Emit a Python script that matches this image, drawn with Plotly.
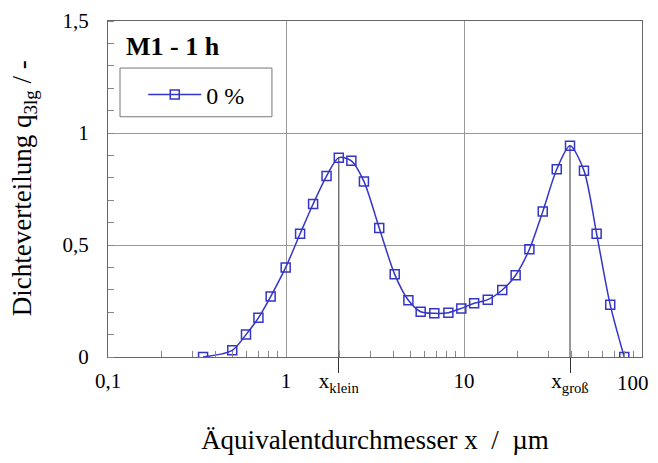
import plotly.graph_objects as go

# --- data ---
size_um = [0.342, 0.499, 0.596, 0.70, 0.82, 0.996, 1.20, 1.42, 1.69, 1.98, 2.33, 2.74,
           3.34, 4.08, 4.87, 5.71, 6.81, 8.17, 9.66, 11.4, 13.6, 16.4, 19.5, 23.3,
           27.7, 33.2, 39.4, 47.2, 55.6, 66.3, 79.5]
q3lg = [0.0, 0.03, 0.10, 0.175, 0.27, 0.40, 0.55, 0.683, 0.808, 0.89, 0.876, 0.784,
        0.576, 0.369, 0.253, 0.202, 0.195, 0.198, 0.217, 0.24, 0.256, 0.299, 0.365, 0.481,
        0.649, 0.838, 0.943, 0.832, 0.55, 0.233, 0.0]
series_name = "0 %"
panel_title = "M1 - 1 h"
x_title = "Äquivalentdurchmesser x  /  µm"
y_title = "Dichteverteilung q<sub>3lg</sub> / -"
x_ticks = [0.1, 1, 10, 100]
x_ticktext = ["0,1", "1", "10", "100"]
y_ticks = [0, 0.5, 1, 1.5]
y_ticktext = ["0", "0,5", "1", "1,5"]
mode_labels = ["x<sub>klein</sub>", "x<sub>groß</sub>"]

# peak positions of the two modes (derived from the data)
split = 10
small = [(q, x) for x, q in zip(size_um, q3lg) if x < split]
large = [(q, x) for x, q in zip(size_um, q3lg) if x >= split]
pk_small = max(small)
pk_large = max(large)
x_klein, x_gross = pk_small[1], pk_large[1]

FONT = "Liberation Serif, Times New Roman, serif"
BLUE = "#3535c8"
TICK_SIZE = 21
minor_x = [m * 10 ** e for e in (-1, 0, 1) for m in range(2, 10)]

fig = go.Figure()
fig.add_trace(go.Scatter(
    x=size_um, y=q3lg, name=series_name, mode="lines+markers",
    line=dict(color=BLUE, width=1.5, shape="spline", smoothing=0.8),
    marker=dict(symbol="square-open", size=9, color=BLUE, line=dict(width=1.5)),
))
# helper trace for the second x axis (mode markers)
fig.add_trace(go.Scatter(x=[x_klein, x_gross], y=[None, None], xaxis="x2",
                         showlegend=False, hoverinfo="skip"))

# vertical lines from the axis up to the mode peaks
for q, x in (pk_small, pk_large):
    fig.add_shape(type="line", xref="x", yref="y", x0=x, x1=x, y0=0, y1=q,
                  line=dict(color="#333333", width=1), layer="below")

# legend frame
fig.add_shape(type="rect", xref="paper", yref="paper", x0=0.0225, x1=0.307,
              y0=0.715, y1=0.860, line=dict(color="#777777", width=1),
              fillcolor="white", layer="above")

fig.add_annotation(text="<b>" + panel_title + "</b>", xref="paper", yref="paper",
                   x=0.030, y=0.925, xanchor="left", yanchor="middle", showarrow=False,
                   font=dict(family=FONT, size=26, color="black"))

# y-axis title
fig.add_annotation(text=y_title, xref="paper", yref="paper", textangle=-90,
                   x=-0.157, y=0.503, xanchor="center", yanchor="middle", showarrow=False,
                   font=dict(family=FONT, size=27, color="black"))

# last x tick label, right-aligned so it stays inside the page
fig.add_annotation(text=x_ticktext[-1], xref="x", x=2, yref="paper", y=-0.077,
                   xanchor="right", yanchor="middle", xshift=9, showarrow=False,
                   font=dict(family=FONT, size=TICK_SIZE, color="black"))

axis_common = dict(showline=True, linecolor="#666666", linewidth=1, mirror=True,
                   gridcolor="#999999", gridwidth=1, zeroline=False, automargin=False,
                   tickfont=dict(family=FONT, size=TICK_SIZE, color="black"))

# the page adds an 8px body margin; size and margins are set to compensate
fig.update_layout(
    width=642, height=447,
    margin=dict(l=100, r=8, t=13, b=98),
    plot_bgcolor="white", paper_bgcolor="white",
    font=dict(family=FONT, color="black"),
    showlegend=True,
    legend=dict(x=0.066, y=0.78, xanchor="left", yanchor="middle",
                bgcolor="rgba(0,0,0,0)", borderwidth=0, itemwidth=53,
                font=dict(family=FONT, size=24, color="black")),
    xaxis=dict(type="log", range=[-1, 2], tickvals=x_ticks[:-1], ticktext=x_ticktext[:-1],
               ticks="", showgrid=True, ticklabelstandoff=5, ticklabeloverflow="allow",
               minor=dict(ticks="inside", ticklen=6, tickcolor="#888888",
                          tickvals=minor_x, showgrid=False),
               title=dict(text=x_title, font=dict(family=FONT, size=27), standoff=41),
               **axis_common),
    xaxis2=dict(type="log", range=[-1, 2], overlaying="x", anchor="y", side="bottom",
                tickvals=[x_klein, x_gross], ticktext=mode_labels,
                ticks="outside", ticklen=15, tickcolor="#333333", tickwidth=1,
                showgrid=False, showline=False, zeroline=False, automargin=False,
                ticklabelstandoff=-10, ticklabeloverflow="allow",
                tickfont=dict(family=FONT, size=TICK_SIZE, color="black")),
    yaxis=dict(range=[0, 1.5], tickvals=y_ticks, ticktext=y_ticktext, ticks="",
               showgrid=True, ticklabelstandoff=14,
               minor=dict(ticks="inside", ticklen=6, tickcolor="#888888", dtick=0.1,
                          showgrid=False),
               **axis_common),
)

fig.write_html("out.html")
